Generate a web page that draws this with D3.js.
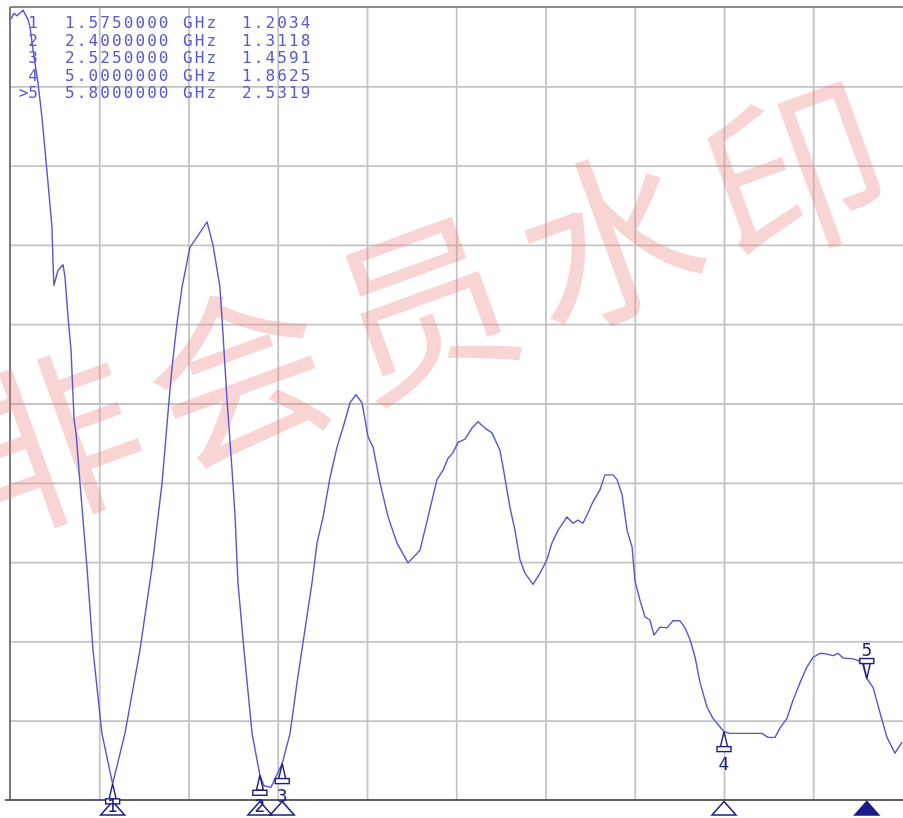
<!DOCTYPE html>
<html>
<head>
<meta charset="utf-8">
<script src="https://cdn.jsdelivr.net/npm/d3@7"></script>
<style>
  html, body { margin: 0; padding: 0; background: #ffffff; }
  svg { display: block; }
</style>
</head>
<body>
<svg id="chart" width="903" height="818"></svg>
<script>
// ---- data ----
const freqGHz = [
  1.006, 1.022, 1.039, 1.073, 1.101, 1.112, 1.129, 1.157, 1.179, 1.196,
  1.213, 1.235, 1.241, 1.246, 1.269, 1.297, 1.308, 1.325, 1.342, 1.359,
  1.370, 1.392, 1.431, 1.465, 1.515, 1.575, 1.644, 1.728, 1.796, 1.852,
  1.891, 1.908, 1.936, 1.964, 2.008, 2.036, 2.104, 2.137, 2.176, 2.193,
  2.216, 2.244, 2.261, 2.277, 2.311, 2.356, 2.400, 2.423, 2.462, 2.525,
  2.569, 2.608, 2.692, 2.720, 2.754, 2.793, 2.832, 2.866, 2.905, 2.938,
  2.972, 3.006, 3.034, 3.073, 3.118, 3.168, 3.230, 3.297, 3.342, 3.392,
  3.426, 3.454, 3.482, 3.510, 3.549, 3.588, 3.622, 3.661, 3.700, 3.745,
  3.762, 3.801, 3.829, 3.857, 3.885, 3.930, 3.969, 4.008, 4.036, 4.070,
  4.120, 4.154, 4.182, 4.210, 4.238, 4.266, 4.305, 4.333, 4.378, 4.401,
  4.429, 4.457, 4.485, 4.501, 4.529, 4.557, 4.585, 4.608, 4.641, 4.681,
  4.714, 4.754, 4.782, 4.810, 4.838, 4.866, 4.905, 4.938, 4.978, 5.000,
  5.034, 5.213, 5.246, 5.286, 5.314, 5.353, 5.387, 5.426, 5.465, 5.499,
  5.538, 5.577, 5.611, 5.639, 5.667, 5.723, 5.773, 5.800, 5.835, 5.874,
  5.913, 5.958, 5.997
];
const vswr = [
  10.85, 10.92, 10.89, 10.96, 10.84, 10.75, 10.46, 10.04, 9.61, 9.20,
  8.78, 8.23, 7.77, 7.49, 7.68, 7.75, 7.60, 7.09, 6.67, 5.79,
  5.63, 5.00, 3.94, 2.89, 1.84, 1.2034, 1.84, 2.89, 3.94, 5.00,
  6.04, 6.46, 7.02, 7.47, 7.97, 8.06, 8.29, 8.00, 7.47, 6.89,
  6.04, 5.16, 4.57, 3.74, 2.89, 1.84, 1.3118, 1.18, 1.16, 1.4591,
  1.84, 2.48, 3.74, 4.24, 4.57, 5.07, 5.45, 5.70, 6.01, 6.11,
  6.01, 5.58, 5.45, 5.00, 4.57, 4.24, 3.99, 4.15, 4.57, 5.04,
  5.16, 5.31, 5.38, 5.51, 5.55, 5.69, 5.77, 5.69, 5.63, 5.41,
  5.20, 4.69, 4.40, 4.03, 3.86, 3.72, 3.86, 4.03, 4.24, 4.40,
  4.57, 4.49, 4.53, 4.49, 4.62, 4.76, 4.91, 5.10, 5.10, 5.04,
  4.85, 4.40, 4.19, 3.77, 3.52, 3.31, 3.27, 3.08, 3.18, 3.17,
  3.26, 3.26, 3.17, 3.02, 2.80, 2.48, 2.17, 2.03, 1.92, 1.8625,
  1.84, 1.84, 1.79, 1.79, 1.91, 2.03, 2.26, 2.48, 2.68, 2.80,
  2.85, 2.84, 2.82, 2.85, 2.79, 2.78, 2.74, 2.5319, 2.42, 2.10,
  1.79, 1.59, 1.73
];
const markerIds = ["1", "2", "3", "4", ">5"];
const markerNums = ["1", "2", "3", "4", "5"];
const markerFreqs = [1.575, 2.4, 2.525, 5.0, 5.8];
const markerValues = [1.2034, 1.3118, 1.4591, 1.8625, 2.5319];
const activeMarker = 4;
const freqUnit = "GHz";
const xGridValues = [1.5, 2.0, 2.5, 3.0, 3.5, 4.0, 4.5, 5.0, 5.5];
const yGridValues = [2, 3, 4, 5, 6, 7, 8, 9, 10];
const watermarkText = "非会员水印";

// ---- layout ----
const svg = d3.select("#chart");
const x = d3.scaleLinear().domain([1, 6]).range([10, 902.5]);
const y = d3.scaleLinear().domain([1, 11]).range([800, 7]);
const traceColor = "#5656d2";
const markColor = "#1c1c8a";

// grid
const gx = svg.append("g").attr("transform", "translate(0,800)")
  .call(d3.axisBottom(x).tickValues(xGridValues).tickSize(-793).tickFormat(""));
gx.select(".domain").remove();
gx.selectAll("line").attr("stroke", "#c4c4c4").attr("stroke-width", 1.8);

const gy = svg.append("g").attr("transform", "translate(10,0)")
  .call(d3.axisLeft(y).tickValues(yGridValues).tickSize(-893).tickFormat(""));
gy.select(".domain").remove();
gy.selectAll("line").attr("stroke", "#c4c4c4").attr("stroke-width", 1.8);

// frame
svg.append("line").attr("x1", 10).attr("x2", 903).attr("y1", y(11)).attr("y2", y(11))
  .attr("stroke", "#8a8a8a").attr("stroke-width", 2);
svg.append("line").attr("x1", 10).attr("x2", 10).attr("y1", y(11)).attr("y2", y(1))
  .attr("stroke", "#7a7a7a").attr("stroke-width", 2);
svg.append("line").attr("x1", 5).attr("x2", 903).attr("y1", y(1)).attr("y2", y(1))
  .attr("stroke", "#5e5e5e").attr("stroke-width", 2);

// watermark
const wm = svg.append("g").attr("opacity", 0.34);
watermarkText.split("").forEach((ch, i) => {
  const cx = 48 + i * 186, cy = 432 - i * 67.5;
  wm.append("text")
    .attr("transform", `translate(${cx},${cy}) rotate(-20)`)
    .attr("text-anchor", "middle")
    .attr("dominant-baseline", "central")
    .attr("font-family", "'Noto Sans CJK SC', sans-serif")
    .attr("font-size", 180)
    .attr("fill", "#ec8080")
    .text(ch);
});

// trace
const pts = freqGHz.map((f, i) => [f, vswr[i]]);
svg.append("path")
  .datum(pts)
  .attr("fill", "none")
  .attr("stroke", traceColor)
  .attr("stroke-width", 1.4)
  .attr("stroke-linejoin", "round")
  .attr("d", d3.line().x(d => x(d[0])).y(d => y(d[1])));

// bottom position markers
markerFreqs.forEach((f, i) => {
  const mx = x(f);
  svg.append("path")
    .attr("d", `M${mx},801.5 L${mx - 12},815 L${mx + 12},815 Z`)
    .attr("fill", i === activeMarker ? markColor : "#ffffff")
    .attr("stroke", markColor).attr("stroke-width", 1.5);
});

// trace markers
markerFreqs.forEach((f, i) => {
  const mx = x(f), my = y(markerValues[i]);
  const g = svg.append("g");
  if (i === activeMarker) {
    g.append("path").attr("d", `M${mx},${my} L${mx - 3.5},${my - 15} L${mx + 3.5},${my - 15} Z`)
      .attr("fill", "#ffffff").attr("stroke", markColor).attr("stroke-width", 1.4);
    g.append("rect").attr("x", mx - 7).attr("y", my - 20).attr("width", 14).attr("height", 5)
      .attr("fill", "#ffffff").attr("stroke", markColor).attr("stroke-width", 1.4);
    g.append("text").attr("x", mx).attr("y", my - 23).attr("text-anchor", "middle")
      .attr("font-family", "'DejaVu Sans', sans-serif").attr("font-size", 17)
      .attr("fill", markColor).text(markerNums[i]);
  } else {
    g.append("path").attr("d", `M${mx},${my} L${mx - 3.5},${my + 15} L${mx + 3.5},${my + 15} Z`)
      .attr("fill", "#ffffff").attr("stroke", markColor).attr("stroke-width", 1.4);
    g.append("rect").attr("x", mx - 7).attr("y", my + 15).attr("width", 14).attr("height", 5)
      .attr("fill", "#ffffff").attr("stroke", markColor).attr("stroke-width", 1.4);
    g.append("text").attr("x", mx).attr("y", Math.min(my + 38, 812)).attr("text-anchor", "middle")
      .attr("font-family", "'DejaVu Sans', sans-serif").attr("font-size", 17)
      .attr("fill", markColor).text(markerNums[i]);
  }
});

// marker readout table
const leg = svg.append("g")
  .attr("font-family", "'DejaVu Sans Mono', monospace")
  .attr("font-size", 16)
  .attr("fill", "#5a5ad0");
markerIds.forEach((id, i) => {
  const by = 28 + i * 17.5;
  leg.append("text").attr("x", 38).attr("y", by).attr("text-anchor", "end").text(id);
  leg.append("text").attr("x", 65).attr("y", by).attr("letter-spacing", 2.1)
    .text(markerFreqs[i].toFixed(7));
  leg.append("text").attr("x", 183).attr("y", by).attr("letter-spacing", 2.1).text(freqUnit);
  leg.append("text").attr("x", 242).attr("y", by).attr("letter-spacing", 2.1)
    .text(markerValues[i].toFixed(4));
});
</script>
</body>
</html>
